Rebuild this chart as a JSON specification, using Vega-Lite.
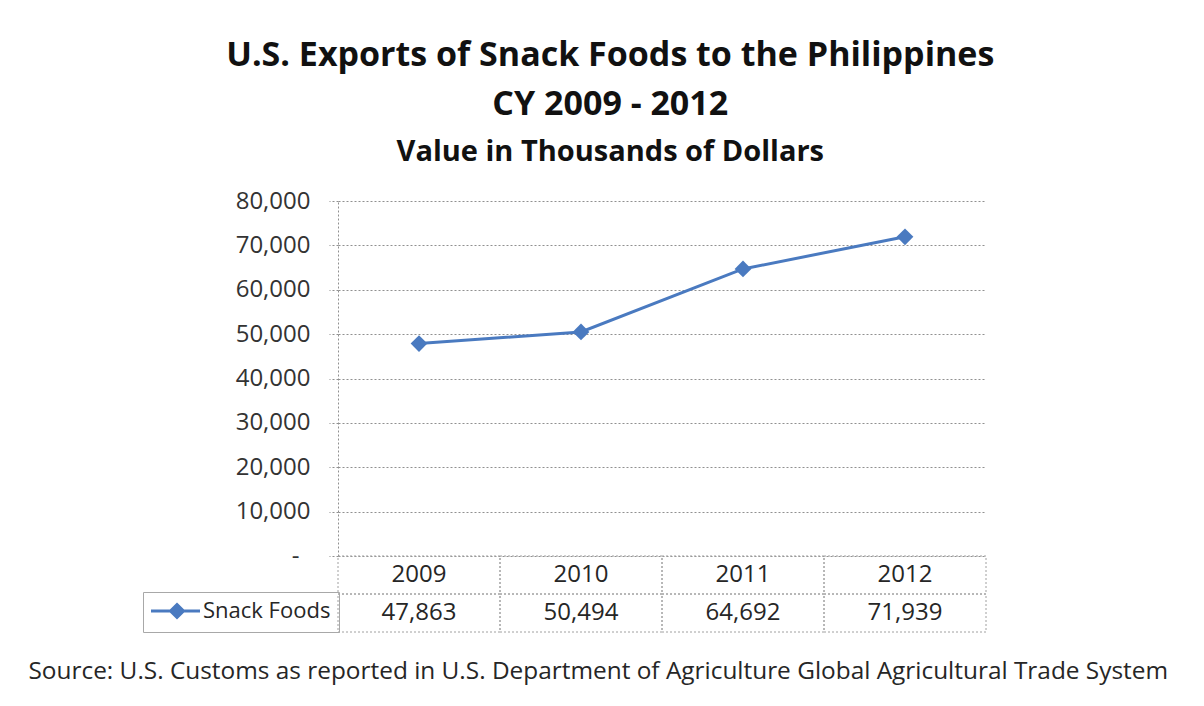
{
  "$schema": "https://vega.github.io/schema/vega-lite/v6.json",
  "background": "white",
  "padding": {"left": 28, "top": 39, "right": 10, "bottom": 10},
  "spacing": 0,
  "bounds": "flush",
  "config": {
    "view": {"stroke": null},
    "font": "Open Sans"
  },
  "title": {
    "text": ["U.S. Exports of Snack Foods to the Philippines", "CY 2009 - 2012"],
    "subtitle": "Value in Thousands of Dollars",
    "font": "Open Sans",
    "fontSize": 34,
    "fontWeight": "bold",
    "lineHeight": 49,
    "color": "#111111",
    "subtitleFont": "Open Sans",
    "subtitleFontSize": 29,
    "subtitleFontWeight": "bold",
    "subtitleColor": "#111111",
    "subtitlePadding": 16,
    "anchor": "middle",
    "dx": 12,
    "offset": 22
  },
  "data": {
    "values": [
      {"year": "2009", "value": 47863, "series": "Snack Foods"},
      {"year": "2010", "value": 50494, "series": "Snack Foods"},
      {"year": "2011", "value": 64692, "series": "Snack Foods"},
      {"year": "2012", "value": 71939, "series": "Snack Foods"}
    ]
  },
  "vconcat": [
    {
      "width": 648,
      "height": 355,
      "encoding": {
        "x": {"field": "year", "type": "ordinal", "scale": {"type": "point", "padding": 0.5}, "axis": null},
        "y": {
          "field": "value",
          "type": "quantitative",
          "scale": {"domain": [0, 80000]},
          "axis": {
            "title": null,
            "values": [0, 10000, 20000, 30000, 40000, 50000, 60000, 70000, 80000],
            "labelExpr": "datum.value == 0 ? '-' : format(datum.value, ',')",
            "labelFont": "Open Sans",
            "labelFontSize": 24,
            "labelColor": "#333333",
            "labelPadding": {"condition": {"test": "datum.value == 0", "value": 30}, "value": 19},
            "tickSize": 9,
            "tickColor": "#909090",
            "tickDash": [2, 2],
            "domainColor": "#909090",
            "domainDash": [2, 2],
            "gridColor": "#909090",
            "gridDash": [2, 2],
            "grid": true
          }
        }
      },
      "layer": [
        {
          "mark": {"type": "line", "color": "#4A7AC0", "strokeWidth": 3},
          "encoding": {
            "color": {
              "field": "series",
              "type": "nominal",
              "scale": {"range": ["#4A7AC0"]},
              "legend": {
                "title": null,
                "orient": "none",
                "legendX": -195,
                "legendY": 391,
                "symbolType": "M-2.2,0H7.6M3.0,-1.3L4.3,0L3.0,1.3L1.7,0Z",
                "symbolSize": 100,
                "symbolStrokeWidth": 3,
                "symbolFillColor": "#4A7AC0",
                "symbolStrokeColor": "#4A7AC0",
                "labelOffset": 30,
                "labelFont": "Open Sans",
                "labelFontSize": 22,
                "labelColor": "#262626",
                "strokeColor": "#A8A8A8",
                "padding": 8
              }
            }
          }
        },
        {
          "mark": {"type": "point", "shape": "diamond", "filled": true, "size": 280, "color": "#4A7AC0", "opacity": 1}
        }
      ]
    },
    {
      "width": 648,
      "height": 76,
      "title": {
        "text": "Source: U.S. Customs as reported in U.S. Department of Agriculture Global Agricultural Trade System",
        "orient": "bottom",
        "anchor": "start",
        "dx": -309,
        "offset": 27,
        "font": "Open Sans",
        "fontSize": 24.4,
        "fontWeight": "normal",
        "color": "#262626"
      },
      "encoding": {
        "x": {"field": "year", "type": "ordinal", "scale": {"type": "band", "paddingInner": 0, "paddingOuter": 0}, "axis": null}
      },
      "layer": [
        {
          "mark": {"type": "rect", "fill": null, "stroke": "#A0A0A0", "strokeWidth": 1, "strokeDash": [2, 2]},
          "encoding": {"y": {"datum": "header", "type": "nominal", "scale": {"domain": ["header", "value"], "paddingInner": 0, "paddingOuter": 0}, "axis": null}}
        },
        {
          "mark": {"type": "rect", "fill": null, "stroke": "#A0A0A0", "strokeWidth": 1, "strokeDash": [2, 2]},
          "encoding": {"y": {"datum": "value", "type": "nominal"}}
        },
        {
          "mark": {"type": "text", "font": "Open Sans", "fontSize": 24, "color": "#262626"},
          "encoding": {"y": {"datum": "header", "type": "nominal"}, "text": {"field": "year"}}
        },
        {
          "mark": {"type": "text", "font": "Open Sans", "fontSize": 24, "color": "#262626"},
          "encoding": {"y": {"datum": "value", "type": "nominal"}, "text": {"field": "value", "format": ","}}
        }
      ]
    }
  ]
}
